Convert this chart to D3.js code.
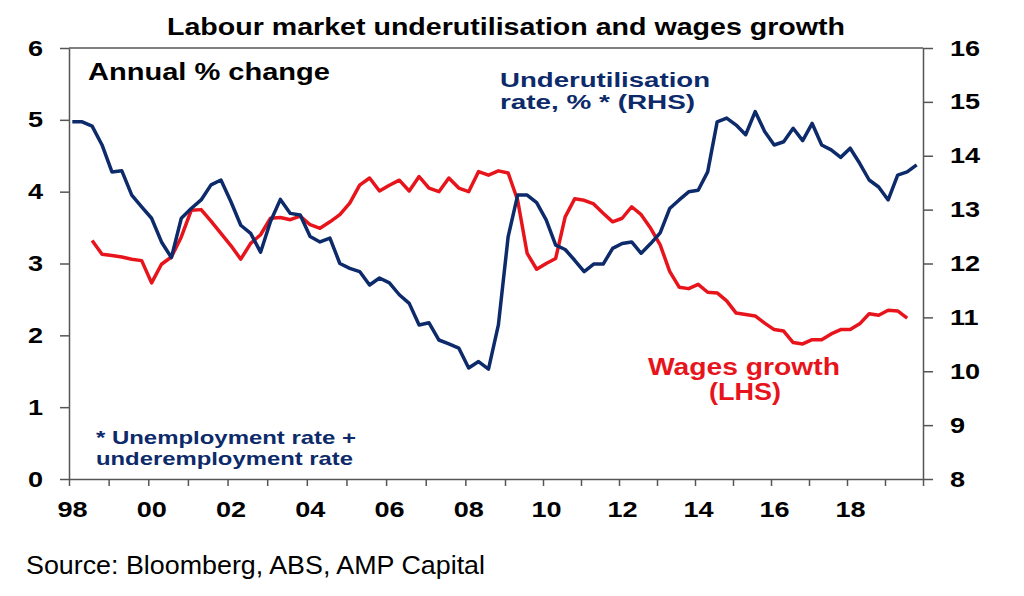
<!DOCTYPE html>
<html>
<head>
<meta charset="utf-8">
<script src="https://cdn.jsdelivr.net/npm/d3@7/dist/d3.min.js"></script>
<style>
  body { margin: 0; background: #fff; }
  text { font-family: "Liberation Sans", Arial, sans-serif; }
</style>
</head>
<body>
<script>
// Underutilisation rate, % (RHS) - quarterly from Feb 1998
const underutilisation = [
  14.63, 14.63, 14.55, 14.20, 13.70, 13.72, 13.27, 13.05, 12.84, 12.40,
  12.11, 12.84, 13.02, 13.18, 13.46, 13.55, 13.15, 12.71, 12.56, 12.21,
  12.78, 13.19, 12.93, 12.90, 12.50, 12.40, 12.47, 12.00, 11.91, 11.85,
  11.60, 11.73, 11.64, 11.42, 11.26, 10.86, 10.90, 10.58, 10.51, 10.43,
  10.06, 10.18, 10.04, 10.86, 12.50, 13.27, 13.27, 13.13, 12.81, 12.34,
  12.26, 12.06, 11.85, 11.99, 11.99, 12.28, 12.37, 12.40, 12.19, 12.37,
  12.57, 13.02, 13.18, 13.33, 13.36, 13.70, 14.63, 14.70, 14.57, 14.39,
  14.82, 14.45, 14.20, 14.26, 14.51, 14.28, 14.60, 14.20, 14.11, 13.97,
  14.14, 13.86, 13.55, 13.42, 13.18, 13.64, 13.70, 13.83
];
const underStart = 1998 + 1 / 12;

// Wages growth, annual % change (LHS) - quarterly from Aug 1998
const wagesGrowth = [
  3.32, 3.13, 3.11, 3.09, 3.06, 3.04, 2.73, 2.99, 3.09, 3.37,
  3.74, 3.75, 3.59, 3.42, 3.25, 3.06, 3.28, 3.40, 3.63, 3.64,
  3.61, 3.66, 3.54, 3.49, 3.58, 3.68, 3.84, 4.09, 4.19, 4.01,
  4.09, 4.16, 4.01, 4.21, 4.05, 4.00, 4.19, 4.05, 4.00, 4.28,
  4.23, 4.29, 4.26, 3.88, 3.14, 2.92, 3.00, 3.07, 3.65, 3.90,
  3.88, 3.83, 3.70, 3.58, 3.63, 3.79, 3.68, 3.49, 3.26, 2.89,
  2.67, 2.65, 2.71, 2.60, 2.59, 2.48, 2.31, 2.29, 2.27, 2.17,
  2.08, 2.06, 1.90, 1.88, 1.94, 1.94, 2.02, 2.08, 2.08, 2.16,
  2.30, 2.28, 2.35, 2.34, 2.24
];
const wagesStart = 1998 + 7 / 12;

// Axis ticks
const leftTicks = [0, 1, 2, 3, 4, 5, 6];
const rightTicks = [8, 9, 10, 11, 12, 13, 14, 15, 16];
const yearTicks = [1998, 1999, 2000, 2001, 2002, 2003, 2004, 2005, 2006, 2007, 2008,
  2009, 2010, 2011, 2012, 2013, 2014, 2015, 2016, 2017, 2018, 2019, 2020];
const yearLabels = [1998, 2000, 2002, 2004, 2006, 2008, 2010, 2012, 2014, 2016, 2018];

const navy = '#0d2a6a';
const red = '#e8141c';
const axisColor = '#555';

const svg = d3.select('body').append('svg')
  .attr('width', 1024)
  .attr('height', 596);

// Scales (the reference's year ticks are slightly wider on the left half)
const x = d3.scaleLinear().domain([1998, 2009, 2020]).range([69, 505, 923]);
const yLeft = d3.scaleLinear().domain([0, 6]).range([479, 48]);
const yRight = d3.scaleLinear().domain([8, 16]).range([479, 48]);

// stretch text horizontally like the reference
function stretch(sel, k) {
  sel.each(function() {
    const w = this.getComputedTextLength();
    if (w > 0) {
      d3.select(this).attr('textLength', w * k).attr('lengthAdjust', 'spacingAndGlyphs');
    }
  });
}

// Top border
svg.append('line')
  .attr('x1', 69).attr('x2', 923)
  .attr('y1', 48).attr('y2', 48)
  .attr('stroke', axisColor).attr('stroke-width', 1.5);

// Left axis
const gLeft = svg.append('g')
  .attr('transform', 'translate(69,0)')
  .call(d3.axisLeft(yLeft).tickValues(leftTicks).tickFormat(d3.format('d'))
    .tickSize(9).tickSizeOuter(0).tickPadding(17));

// Right axis
const gRight = svg.append('g')
  .attr('transform', 'translate(923,0)')
  .call(d3.axisRight(yRight).tickValues(rightTicks).tickFormat(d3.format('d'))
    .tickSize(10).tickSizeOuter(0).tickPadding(17));

// Bottom axis
const gBottom = svg.append('g')
  .attr('transform', 'translate(0,479)')
  .call(d3.axisBottom(x).tickValues(yearTicks).tickSize(7).tickSizeOuter(0).tickPadding(15)
    .tickFormat(d => yearLabels.includes(d) ? String(d).slice(2) : ''));

[gLeft, gRight, gBottom].forEach(g => {
  g.select('.domain').attr('stroke', axisColor).attr('stroke-width', 1.5);
  g.selectAll('.tick line').attr('stroke', axisColor).attr('stroke-width', 1.5);
  g.selectAll('.tick text')
    .attr('fill', '#000')
    .style('font-size', '22px')
    .style('font-weight', 'bold');
});
gBottom.selectAll('.tick text').attr('dx', 3);
stretch(gLeft.selectAll('.tick text'), 1.23);
stretch(gRight.selectAll('.tick text'), 1.23);
stretch(gBottom.selectAll('.tick text'), 1.23);

// Lines
const wagesLine = d3.line()
  .x((d, i) => x(wagesStart + i * 0.25))
  .y(d => yLeft(d));

const underLine = d3.line()
  .x((d, i) => x(underStart + i * 0.25))
  .y(d => yRight(d));

svg.append('path')
  .datum(wagesGrowth)
  .attr('d', wagesLine)
  .attr('fill', 'none')
  .attr('stroke', red)
  .attr('stroke-width', 3.5)
  .attr('stroke-linejoin', 'round');

svg.append('path')
  .datum(underutilisation)
  .attr('d', underLine)
  .attr('fill', 'none')
  .attr('stroke', navy)
  .attr('stroke-width', 3.5)
  .attr('stroke-linejoin', 'round');

// Texts - each label is one <text>, extra lines go in tspans
function addText(lines, size, weight, color) {
  const t = svg.append('text')
    .attr('fill', color)
    .style('font-size', size + 'px')
    .style('font-weight', weight);
  lines.forEach(l => {
    t.append('tspan')
      .attr('x', l.x).attr('y', l.y)
      .attr('textLength', l.len)
      .attr('lengthAdjust', 'spacingAndGlyphs')
      .text(l.str);
  });
  return t;
}

addText([{ str: 'Labour market underutilisation and wages growth', x: 167, y: 35, len: 678 }], 23, 'bold', '#000');
addText([{ str: 'Annual % change', x: 88, y: 80, len: 242 }], 23, 'bold', '#000');
addText([
  { str: 'Underutilisation', x: 500, y: 87, len: 210 },
  { str: 'rate, % * (RHS)', x: 500, y: 109, len: 195 }
], 19.5, 'bold', navy);
addText([
  { str: 'Wages growth', x: 648, y: 375, len: 192 },
  { str: '(LHS)', x: 709, y: 400, len: 72 }
], 23, 'bold', red);
addText([
  { str: '* Unemployment rate +', x: 96, y: 444, len: 260 },
  { str: 'underemployment rate', x: 96, y: 465, len: 257 }
], 19, 'bold', navy);
addText([{ str: 'Source: Bloomberg, ABS, AMP Capital', x: 26, y: 574, len: 459 }], 25, 'normal', '#000');
</script>
</body>
</html>
